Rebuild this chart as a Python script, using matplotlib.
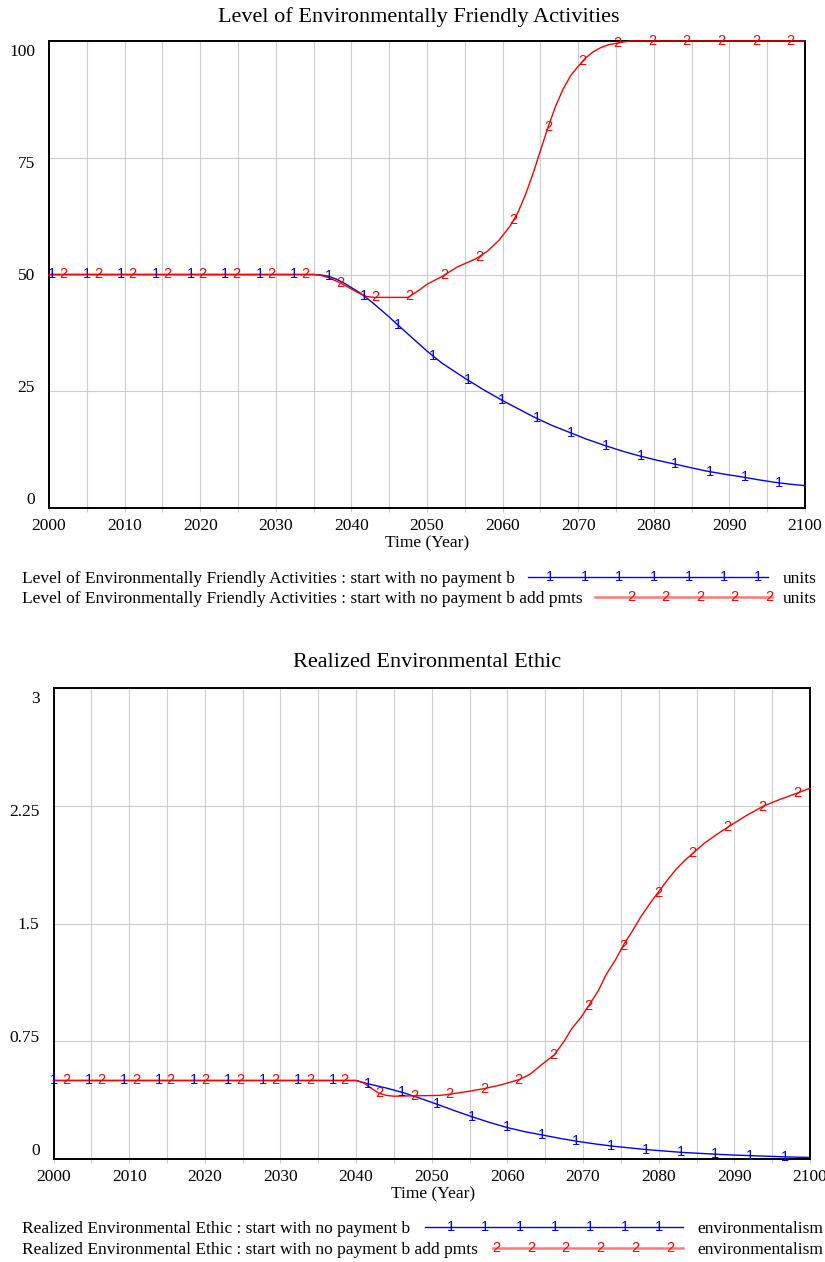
import numpy as np
import matplotlib
matplotlib.use("Agg")
import matplotlib.pyplot as plt
from matplotlib.lines import Line2D
from matplotlib.transforms import offset_copy

# ---- data ----
act_years_1 = [2000, 2035, 2036, 2037, 2038, 2039, 2040, 2041, 2042, 2043, 2044, 2045, 2046,
               2048, 2050, 2052, 2055, 2057.5, 2060, 2062, 2064, 2066.5, 2069, 2071, 2073.5,
               2076, 2078, 2080.5, 2082.5, 2085, 2087, 2089.5, 2091.5, 2094, 2096, 2098, 2100]
act_vals_1 = [50, 50, 49.9, 49.6, 49.0, 48.2, 47.2, 46.2, 45.0, 43.7, 42.3, 40.9, 39.4,
              36.5, 33.6, 31.0, 27.8, 25.3, 23.0, 21.3, 19.6, 17.7, 16.1, 14.8, 13.4,
              12.1, 11.2, 10.2, 9.5, 8.6, 7.9, 7.2, 6.7, 6.0, 5.5, 5.1, 4.8]

act_years_2 = [2000, 2035, 2036, 2037, 2038, 2039, 2040, 2041, 2042, 2043, 2047.5, 2049, 2050,
               2052, 2054, 2056.5, 2058, 2059.5, 2061, 2062, 2063, 2064, 2065, 2066, 2067,
               2068, 2069, 2070, 2071, 2072, 2073, 2074, 2075, 2076, 2077, 2100]
act_vals_2 = [50, 50, 49.8, 49.3, 48.6, 47.8, 46.9, 46.0, 45.3, 45.1, 45.1, 46.7, 47.9,
              49.6, 51.6, 53.4, 55.0, 57.3, 60.4, 63.2, 67.0, 71.5, 76.5, 81.5, 86.0,
              89.7, 92.6, 94.6, 96.4, 97.7, 98.6, 99.2, 99.5, 99.8, 100, 100]

eth_years_1 = [2000, 2040, 2041.5, 2044, 2046.2, 2048.5, 2050.8, 2053, 2055.4, 2057.7, 2060,
               2062.3, 2064.7, 2067, 2069.3, 2071.6, 2073.9, 2076.3, 2078.6, 2081, 2083.1,
               2085.4, 2087.7, 2090, 2092.4, 2094.7, 2097, 2100]
eth_vals_1 = [0.5, 0.5, 0.48, 0.452, 0.423, 0.386, 0.347, 0.308, 0.268, 0.232, 0.200,
              0.174, 0.152, 0.131, 0.112, 0.096, 0.082, 0.070, 0.059, 0.050, 0.042,
              0.036, 0.030, 0.025, 0.021, 0.017, 0.013, 0.010]

eth_years_2 = [2000, 2040, 2041, 2042, 2043, 2044, 2045, 2051, 2052.3, 2054.5, 2056.9, 2059.3,
               2061.6, 2063, 2064.5, 2066.2, 2067.5, 2068.5, 2069.7, 2070.8, 2072, 2073,
               2074.3, 2075.4, 2076.5, 2077.6, 2078.8, 2080, 2081.2, 2082.3, 2083.4, 2084.6,
               2086, 2087.6, 2089.2, 2091.5, 2093.8, 2096, 2098.5, 2100]
eth_vals_2 = [0.5, 0.5, 0.485, 0.45, 0.42, 0.405, 0.40, 0.405, 0.412, 0.428, 0.448, 0.474,
              0.507, 0.54, 0.60, 0.664, 0.75, 0.83, 0.90, 0.981, 1.07, 1.17,
              1.27, 1.368, 1.45, 1.54, 1.625, 1.703, 1.78, 1.845, 1.90, 1.951,
              2.01, 2.065, 2.116, 2.185, 2.247, 2.29, 2.334, 2.362]

act_ticks = [0, 25, 50, 75, 100]
act_tick_labels = ["0", "25", "50", "75", "100"]
eth_ticks = [0, 0.75, 1.5, 2.25, 3]
eth_tick_labels = ["0", "0.75", "1.5", "2.25", "3"]

title_top = "Level of Environmentally Friendly Activities"
title_bot = "Realized Environmental Ethic"
legend_top = ["Level of Environmentally Friendly Activities : start with no payment b",
              "Level of Environmentally Friendly Activities : start with no payment b add pmts"]
legend_bot = ["Realized Environmental Ethic : start with no payment b",
              "Realized Environmental Ethic : start with no payment b add pmts"]
units_top = "units"
units_bot = "environmentalism"

BLUE = "#0000ff"
RED = "#ff0000"
GRID = "#cccccc"
SERIF = "Liberation Serif"
SANS = "Liberation Sans"
DIGIT_SIZE = 10.5
LEG_SIZE = 12.5

W, H = 825, 1262
fig = plt.figure(figsize=(W / 100, H / 100), dpi=100)


def fx(px):
    return px / W


def fy(py):
    return 1 - py / H


def setup_axes(rect, ymax, ticks, labels):
    ax = fig.add_axes(rect)
    ax.set_xlim(2000, 2100)
    ax.set_ylim(0, ymax)
    ax.set_xticks(np.arange(2000, 2101, 5))
    ax.set_xticklabels([str(y) if y % 10 == 0 else "" for y in range(2000, 2101, 5)],
                       fontfamily=SERIF, fontsize=12.5)
    ax.tick_params(axis="x", length=3, color=GRID, pad=4)
    ax.set_yticks(ticks)
    ax.set_yticklabels([])
    ax.tick_params(axis="y", length=0)
    ax.grid(True, color=GRID, lw=0.8)
    ax.set_axisbelow(True)
    for s in ax.spines.values():
        s.set_linewidth(1.4)
        s.set_color("black")
    # vensim style labels: drift from top-aligned to bottom-aligned
    for v, lab in zip(ticks, labels):
        f = v / ymax
        dy = -8 + 18.5 * f
        tr = offset_copy(ax.get_yaxis_transform(), fig=fig, x=-14, y=-dy, units="dots")
        ax.text(0, v, lab, transform=tr, ha="right", va="center",
                fontfamily=SERIF, fontsize=12.5)
    return ax


def draw_series(ax, xs, ys, color, digit, start, step=4.58):
    ax.plot(xs, ys, color=color, lw=1.0, zorder=3, clip_on=False)
    mx = np.arange(start, 2100, step)
    my = np.interp(mx, xs, ys)
    for x, y in zip(mx, my):
        ax.text(x, y, digit, color=color, ha="center", va="center",
                fontfamily=SANS, fontsize=DIGIT_SIZE, zorder=4)


# ---- top panel ----
ax1 = setup_axes([fx(49), fy(508), fx(805) - fx(49), fy(41) - fy(508)], 100,
                 act_ticks, act_tick_labels)
draw_series(ax1, act_years_1, act_vals_1, BLUE, "1", 2000.4)
draw_series(ax1, act_years_2, act_vals_2, RED, "2", 2001.9)

# ---- bottom panel ----
ax2 = setup_axes([fx(53.5), fy(1159), fx(810) - fx(53.5), fy(688) - fy(1159)], 3,
                 eth_ticks, eth_tick_labels)
draw_series(ax2, eth_years_1, eth_vals_1, BLUE, "1", 2000.1, 4.6)
draw_series(ax2, eth_years_2, eth_vals_2, RED, "2", 2001.7, 4.6)

# titles and axis names
fig.text(fx(419), fy(17), title_top, ha="center", va="center", fontfamily=SERIF, fontsize=16)
fig.text(fx(427), fy(663), title_bot, ha="center", va="center", fontfamily=SERIF, fontsize=16)
fig.text(fx(427), fy(543), "Time (Year)", ha="center", va="center", fontfamily=SERIF, fontsize=12.5)
fig.text(fx(433), fy(1194), "Time (Year)", ha="center", va="center", fontfamily=SERIF, fontsize=12.5)


def legend_row(y, label, units, ux, x0, x1, color, lcolor, lw, digit, m0, mstep, n):
    fig.text(fx(22), fy(y), label, ha="left", va="center", fontfamily=SERIF, fontsize=LEG_SIZE)
    fig.add_artist(Line2D([fx(x0), fx(x1)], [fy(y - 2), fy(y - 2)], color=lcolor, lw=lw))
    for k in range(n):
        fig.text(fx(m0 + k * mstep), fy(y - 2), digit, color=color, ha="center", va="center",
                 fontfamily=SANS, fontsize=DIGIT_SIZE)
    fig.text(fx(ux), fy(y), units, ha="left", va="center", fontfamily=SERIF, fontsize=LEG_SIZE)


legend_row(579, legend_top[0], units_top, 783, 528, 768, BLUE, BLUE, 1.0, "1", 550, 34.7, 7)
legend_row(599, legend_top[1], units_top, 783, 595, 772, RED, "#ff7777", 1.8, "2", 631, 34.5, 5)
legend_row(1229, legend_bot[0], units_bot, 697, 425, 683, BLUE, BLUE, 1.0, "1", 450.5, 34.8, 7)
legend_row(1250, legend_bot[1], units_bot, 697, 493, 683, RED, "#ff7777", 1.8, "2", 496, 34.9, 6)

fig.savefig("out.png", dpi=100)
